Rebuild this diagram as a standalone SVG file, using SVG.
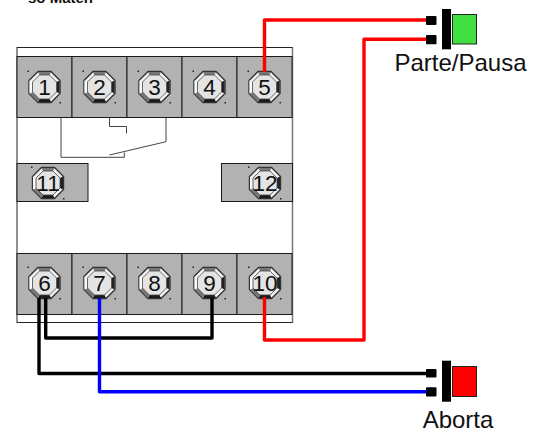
<svg xmlns="http://www.w3.org/2000/svg" width="538" height="432" viewBox="0 0 538 432">
<style>
.cell{fill:#b2b2b2;stroke:#1a1a1a;stroke-width:1}
.t{font-family:"Liberation Sans",Arial,sans-serif;font-size:22.500px;fill:#111;text-anchor:middle}
.l{font-family:"Liberation Sans",Arial,sans-serif;font-size:24px;fill:#111;text-anchor:middle}
.w{fill:none;stroke-width:3.4;stroke-linejoin:round}
.thin{fill:none;stroke:#444;stroke-width:1}
</style>
<defs>
<g id="screw">
<polygon points="-6.500,-15.500 6.500,-15.500 15.500,-6.500 15.500,6.500 6.500,15.500 -6.500,15.500 -15.500,6.500 -15.500,-6.500" fill="#f2f2f2" stroke="#333" stroke-width="1.400"/>
<polygon points="-6.500,-15 6.500,-15 5,-12 -5,-12" fill="#777"/>
<polygon points="15,-6.500 15,6.500 12,5 12,-5" fill="#222"/>
<polygon points="6.500,15 -6.500,15 -5,12 5,12" fill="#1a1a1a"/>
<polygon points="-6.500,15 -15,6.500 -12,5 -5,12" fill="#777"/>
<polygon points="-15,6.500 -15,-6.500 -12,-5 -12,5" fill="#fafafa"/>
<polygon points="-5,-12 5,-12 12,-5 12,5 5,12 -5,12 -12,5 -12,-5" fill="#e4e4e4" stroke="#444" stroke-width=".8"/>
<rect x="-17" y="-16.500" width="1.500" height="1.500" fill="#222"/>
<rect x="15" y="15" width="1.500" height="1.500" fill="#222"/>
</g>
</defs>
<text x="28" y="3" font-family="Liberation Sans,Arial,sans-serif" font-size="15" font-weight="bold" fill="#111">so Matén</text>
<g id="base"><rect x="17" y="47.500" width="275.500" height="275" fill="#fff" stroke="#222" stroke-width="1"/><path d="M292.500 47.500V322.500" stroke="#777" stroke-width="1.500"/></g>
<g id="relay-contacts">
<path class="thin" d="M61 117V157.300H124.300V152.500"/>
<path class="thin" d="M109.500 155L166 141.700V117"/>
<path class="thin" d="M109.500 117V126.500H126.500V133.500"/>
</g>
<g id="t1"><rect class="cell" x="17" y="56.500" width="55" height="61"/><use href="#screw" x="44.500" y="87"/><text class="t" x="44.500" y="94.800">1</text></g>
<g id="t2"><rect class="cell" x="72" y="56.500" width="55" height="61"/><use href="#screw" x="99.500" y="87"/><text class="t" x="99.500" y="94.800">2</text></g>
<g id="t3"><rect class="cell" x="127" y="56.500" width="55" height="61"/><use href="#screw" x="154.500" y="87"/><text class="t" x="154.500" y="94.800">3</text></g>
<g id="t4"><rect class="cell" x="182" y="56.500" width="55" height="61"/><use href="#screw" x="209.500" y="87"/><text class="t" x="209.500" y="94.800">4</text></g>
<g id="t5"><rect class="cell" x="237" y="56.500" width="55" height="61"/><use href="#screw" x="264.500" y="87"/><text class="t" x="264.500" y="94.800">5</text></g>
<g id="t11"><rect class="cell" x="17" y="163.500" width="71" height="38"/><use href="#screw" x="48" y="183"/><text class="t" x="48" y="191">11</text></g>
<g id="t12"><rect class="cell" x="221.500" y="163.500" width="71" height="38"/><use href="#screw" x="265" y="183"/><text class="t" x="265" y="191">12</text></g>
<g id="t6"><rect class="cell" x="17" y="253.500" width="55" height="61"/><use href="#screw" x="44.500" y="283"/><text class="t" x="44.500" y="291">6</text></g>
<g id="t7"><rect class="cell" x="72" y="253.500" width="55" height="61"/><use href="#screw" x="99.500" y="283"/><text class="t" x="99.500" y="291">7</text></g>
<g id="t8"><rect class="cell" x="127" y="253.500" width="55" height="61"/><use href="#screw" x="154.500" y="283"/><text class="t" x="154.500" y="291">8</text></g>
<g id="t9"><rect class="cell" x="182" y="253.500" width="55" height="61"/><use href="#screw" x="209.500" y="283"/><text class="t" x="209.500" y="291">9</text></g>
<g id="t10"><rect class="cell" x="237" y="253.500" width="55" height="61"/><use href="#screw" x="265" y="283"/><text class="t" x="265" y="291">10</text></g>
<g id="connectors">
<path class="w" stroke="#f00" d="M264.500 72V20H430"/>
<path class="w" stroke="#f00" d="M264.500 297V340H364V39.300H430"/>
<path class="w" stroke="#000" d="M39 298V373.500H430"/>
<path class="w" stroke="#000" d="M45.700 298V338H212V298"/>
<path class="w" stroke="#00f" d="M99.500 298V391.700H430"/>
</g>
<g id="btn-parte">
<rect x="426" y="16" width="10.500" height="9" rx="1" fill="#000"/><rect x="426" y="35" width="10.500" height="9.300" rx="1" fill="#000"/>
<rect x="442" y="9" width="9" height="40.300" fill="#000"/>
<rect x="452.500" y="14.500" width="24" height="29.500" fill="#3fe03f" stroke="#222" stroke-width="1"/>
<text class="l" x="460.500" y="71">Parte/Pausa</text>
</g>
<g id="btn-aborta">
<rect x="426" y="369" width="10.500" height="8.500" rx="1" fill="#000"/><rect x="426" y="387.300" width="10.500" height="9.300" rx="1" fill="#000"/>
<rect x="442" y="360.700" width="9" height="41" fill="#000"/>
<rect x="452.500" y="366.500" width="24" height="30" fill="#f00" stroke="#222" stroke-width="1"/>
<text class="l" x="458" y="428">Aborta</text>
</g>
</svg>
